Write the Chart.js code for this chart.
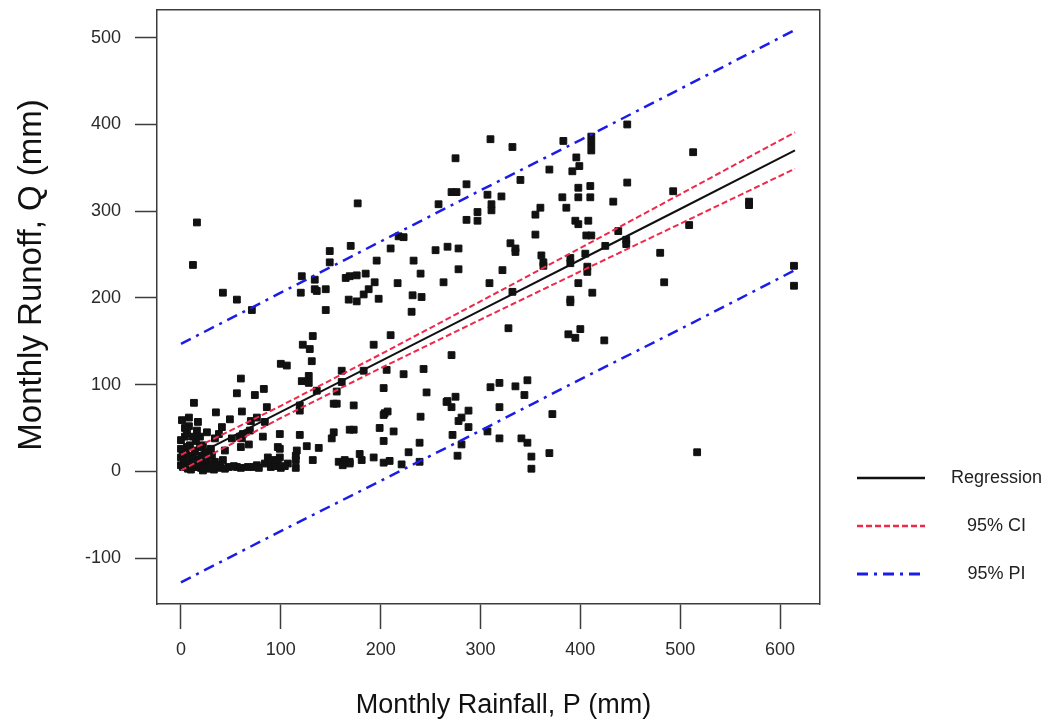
<!DOCTYPE html>
<html>
<head>
<meta charset="utf-8">
<title>Monthly runoff vs monthly rainfall</title>
<script src="https://cdn.jsdelivr.net/npm/chart.js@4.4.1/dist/chart.umd.min.js"></script>
<style>
  html, body { margin: 0; padding: 0; background: #fff; }
</style>
</head>
<body>
<canvas id="myChart" width="1048" height="725"></canvas>
<script>
// observed months: rainfall P (mm) and runoff Q (mm), same order in both lists
const rainfall = [
  16, 12, 42, 56, 71, 177, 149, 149, 170, 210, 196, 218, 223, 121, 134, 120, 134, 136, 145, 145,
  165, 169, 176, 185, 194, 188, 183, 168, 176, 198, 217, 132, 122, 129, 210, 193,
  310, 332, 275, 383, 447, 411, 411, 411, 396, 399, 392, 369, 340, 286, 271, 276, 307, 321, 311, 311,
  297, 297, 286, 258, 398, 410, 398, 410, 382, 386, 447, 433, 360, 355, 395, 398, 408, 406, 411, 438,
  446, 425, 355, 330, 335, 335, 361, 363, 363, 390, 390, 405, 407, 407, 398, 412, 322, 309, 332, 278,
  263, 267, 255, 278, 233, 240, 232, 241, 390,
  513, 493, 569, 569, 446, 509, 480, 484, 424, 614, 614, 517,
  390, 328, 388, 395, 400, 231, 271, 183, 206, 223, 243, 203, 246, 173, 204, 207, 240, 199, 173, 213,
  203, 239, 228, 179, 181, 193, 203, 209, 221, 239, 169, 310, 319, 335, 347, 344, 319, 267, 275, 271,
  288, 281, 278, 288, 272, 281, 277, 307, 319, 341, 347, 351, 351, 369, 372, 266, 203, 153, 156, 119,
  119, 169, 153, 151, 119, 126, 138, 115, 115, 115, 132, 158, 164, 169, 162,
  131, 100, 106, 60, 121, 128, 128, 161, 83, 56, 74, 156, 136, 161, 13, 35, 61, 86, 1, 17,
  8, 49, 41, 76, 38, 16, 19, 59, 69, 60, 68, 82, 99, 97, 99, 87, 116, 70, 84, 62,
  61, 51, 34, 4, 0, 0, 0, 0, 9, 11, 11, 22, 21, 24, 31, 34, 44, 42, 67, 76,
  84, 91, 99, 97, 107, 2, 12, 18, 35, 48, 56,
  20, 27, 40, 53, 60, 73, 78, 90, 95, 100, 104, 3, 5, 6, 7, 14, 15, 17, 19, 25,
  26, 28, 30, 6, 12, 8, 4, 26, 2, 10, 16, 22, 14, 8, 30, 33, 38, 44
]
const runoff = [
  287, 238, 206, 198, 186, 309, 254, 241, 260, 257, 243, 271, 270, 225, 221, 206, 210, 208, 210, 186,
  223, 225, 226, 228, 218, 210, 204, 198, 196, 199, 217, 156, 146, 141, 157, 146,
  383, 374, 361, 381, 400, 386, 378, 370, 362, 352, 346, 348, 336, 331, 322, 322, 319, 317, 308, 301,
  299, 289, 290, 308, 327, 329, 316, 316, 316, 304, 333, 311, 304, 296, 289, 285, 289, 272, 272, 277,
  267, 260, 273, 263, 257, 253, 249, 241, 237, 246, 240, 251, 236, 230, 217, 206, 232, 217, 207, 233,
  218, 259, 255, 257, 243, 228, 203, 201, 198,
  368, 323, 311, 307, 262, 284, 252, 218, 151, 237, 214, 22,
  195, 165, 158, 154, 164, 184, 134, 116, 117, 112, 118, 96, 91, 76, 67, 69, 63, 50, 48, 46,
  35, 33, 22, 20, 13, 16, 10, 12, 8, 11, 11, 97, 102, 98, 105, 88, 74, 81, 86, 74,
  70, 62, 58, 51, 42, 31, 18, 46, 38, 38, 33, 17, 3, 21, 66, 80, 65, 78, 78, 76,
  70, 48, 45, 38, 42, 29, 27, 18, 13, 4, 13, 11, 13, 9, 7,
  127, 124, 122, 107, 104, 110, 102, 116, 95, 90, 88, 92, 93, 103, 79, 68, 69, 74, 59, 57,
  52, 60, 51, 62, 43, 47, 40, 40, 47, 28, 31, 40, 43, 28, 16, 16, 24, 58, 57, 43,
  38, 38, 38, 40, 36, 26, 16, 7, 30, 18, 11, 30, 18, 9, 18, 11, 24, 13, 5, 7,
  9, 13, 26, 13, 9, 5, 5, 5, 5, 5, 5,
  4, 6, 4, 6, 4, 5, 4, 5, 6, 4, 6, 12, 20, 28, 3, 24, 35, 12, 28, 22,
  14, 3, 26, 44, 40, 62, 50, 45, 22, 2, 8, 1, 14, 9, 8, 2, 7, 3
]

// fitted line with its 95% confidence and prediction bands
const fitP = [0, 100, 200, 300, 400, 500, 615]
const regressionQ = [10, 68.5, 127, 185.5, 244, 302.5, 370]
const ciUpperQ = [19, 75.5, 135, 196, 257.5, 319.5, 391]
const ciLowerQ = [1, 61.5, 119, 175, 230.5, 285.5, 349]
const piUpperQ = [147, 206, 265, 324, 382, 441, 509]
const piLowerQ = [-128, -69, -11, 47, 106, 164, 232]

const xTicks = [0, 100, 200, 300, 400, 500, 600]
const yTicks = [-100, 0, 100, 200, 300, 400, 500]

const FONT = 'Liberation Sans, Arial, sans-serif'
const FRAME = '#3c3c3c'

const toXY = (xs, ys) => xs.map((x, i) => ({ x: x, y: ys[i] }))

function lineSet (label, ys, color, width, dash) {
  return {
    label: label,
    data: toXY(fitP, ys),
    showLine: true,
    borderColor: color,
    backgroundColor: color,
    borderWidth: width,
    borderDash: dash,
    pointRadius: 0,
    pointHoverRadius: 0,
    fill: false
  }
}

// little line sample for the legend, line drawn on the left part only
function legendSwatch (ds) {
  const c = document.createElement('canvas')
  c.width = 80
  c.height = 8
  const g = c.getContext('2d')
  g.strokeStyle = ds.borderColor
  g.lineWidth = ds.borderWidth + 0.5
  g.setLineDash(ds.borderDash || [])
  g.beginPath()
  g.moveTo(0, 4)
  g.lineTo(68, 4)
  g.stroke()
  return c
}

// fixed box sizes so the plot frame lands where the original has it
function fixSize (w, h) {
  return s => {
    if (w !== null) s.width = w
    if (h !== null) s.height = h
    s.paddingTop = 0
    s.paddingBottom = 0
    s.paddingLeft = 0
    s.paddingRight = 0
  }
}

const frameAxis = {
  type: 'linear',
  display: true,
  min: 0,
  max: 1,
  ticks: { display: false },
  grid: { display: false, drawTicks: false },
  border: { display: true, color: FRAME, width: 1.5 }
}

window.onload = function () {
  const ctx = document.getElementById('myChart').getContext('2d')
  const myChart = new Chart(ctx, {
    type: 'scatter',
    data: {
      datasets: [
        lineSet('Regression', regressionQ, '#111111', 2, []),
        lineSet('95% CI', ciUpperQ, '#f0284a', 2, [6, 3]),
        lineSet('95% PI', piUpperQ, '#1c1ce8', 2.5, [11, 6, 3, 6]),
        lineSet('95% CI lower', ciLowerQ, '#f0284a', 2, [6, 3]),
        lineSet('95% PI lower', piLowerQ, '#1c1ce8', 2.5, [11, 6, 3, 6]),
        {
          label: 'Observed',
          data: toXY(rainfall, runoff),
          pointStyle: 'rect',
          pointRadius: 4.8,
          pointHoverRadius: 4.8,
          borderWidth: 1,
          borderColor: '#111111',
          backgroundColor: '#111111'
        }
      ]
    },
    options: {
      responsive: false,
      animation: false,
      devicePixelRatio: 1,
      layout: { padding: { left: 0, right: 1, top: 0, bottom: 0 } },
      scales: {
        x: {
          type: 'linear',
          min: -24,
          max: 640,
          afterBuildTicks: s => { s.ticks = xTicks.map(v => ({ value: v })) },
          afterFit: fixSize(null, 121),
          ticks: { color: '#2a2a2a', font: { family: FONT, size: 18 }, padding: 10, maxRotation: 0 },
          grid: { drawOnChartArea: false, drawTicks: true, tickLength: 25, tickColor: FRAME, tickWidth: 1.5 },
          border: { display: true, color: FRAME, width: 1.5 },
          title: {
            display: true,
            text: '    Monthly Rainfall, P (mm)',
            color: '#111',
            font: { family: FONT, size: 27 },
            padding: { top: 0, bottom: 3 }
          }
        },
        y: {
          type: 'linear',
          min: -153,
          max: 532,
          afterBuildTicks: s => { s.ticks = yTicks.map(v => ({ value: v })) },
          afterFit: fixSize(157, null),
          ticks: { color: '#2a2a2a', font: { family: FONT, size: 18 }, padding: 14 },
          grid: { drawOnChartArea: false, drawTicks: true, tickLength: 22, tickColor: FRAME, tickWidth: 1.5 },
          border: { display: true, color: FRAME, width: 1.5 },
          title: {
            display: true,
            text: '       Monthly Runoff, Q (mm)',
            color: '#111',
            font: { family: FONT, size: 33 },
            padding: { top: 12, bottom: 0 }
          }
        },
        xTop: Object.assign({}, frameAxis, { position: 'top', afterFit: fixSize(null, 10) }),
        yRight: Object.assign({}, frameAxis, { position: 'right', afterFit: fixSize(7, null) })
      },
      plugins: {
        tooltip: { enabled: false },
        legend: {
          position: 'right',
          align: 'start',
          maxWidth: 240,
          title: { display: true, text: ' ', font: { size: 10 }, padding: { top: 427, bottom: 0 } },
          labels: {
            usePointStyle: true,
            pointStyleWidth: 80,
            padding: 30,
            textAlign: 'center',
            color: '#222',
            font: { family: FONT, size: 18 },
            generateLabels: chart => Chart.defaults.plugins.legend.labels.generateLabels(chart)
              .filter(item => item.datasetIndex < 3)
              .map(item => Object.assign(item, { pointStyle: legendSwatch(chart.data.datasets[item.datasetIndex]) }))
          }
        }
      }
    }
  })
}
</script>
</body>
</html>
